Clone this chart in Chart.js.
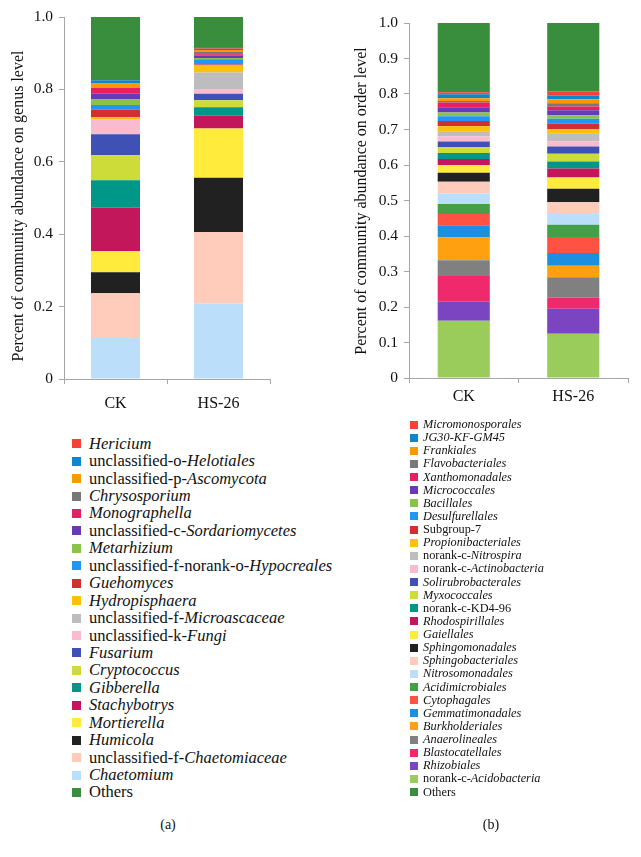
<!DOCTYPE html>
<html>
<head>
<meta charset="utf-8">
<script src="https://cdn.jsdelivr.net/npm/chart.js@4"></script>
<style>
  body { margin: 0; background: #fff; font-family: 'Liberation Serif', serif; color: #111; }
  #page { position: relative; width: 641px; height: 857px; overflow: hidden; }
  .chart-box { position: absolute; top: 0; height: 420px; }
  .legend { position: absolute; }
  .legend .row { display: flex; align-items: center; white-space: nowrap; }
  .legend .sw { flex: none; }
  .caption { position: absolute; top: 817px; font-size: 14px; width: 40px; text-align: center; }
</style>
</head>
<body>
<div id="page">
  <div class="chart-box" style="left:0;width:290px"><canvas id="genus-chart"></canvas></div>
  <div class="chart-box" style="left:320px;width:321px"><canvas id="order-chart"></canvas></div>
  <div id="genus-legend" class="legend" style="left:72px;top:435px"></div>
  <div id="order-legend" class="legend" style="left:410px;top:418px"></div>
  <div class="caption" style="left:148px">(a)</div>
  <div class="caption" style="left:471px">(b)</div>
</div>
<script>
// Categories (both panels)
const samples = ['CK', 'HS-26'];

// Genus level, in legend order (top to bottom); *text* = italic
const genusNames = [
  '*Hericium*', 'unclassified-o-*Helotiales*', 'unclassified-p-*Ascomycota*', '*Chrysosporium*',
  '*Monographella*', 'unclassified-c-*Sordariomycetes*', '*Metarhizium*',
  'unclassified-f-norank-o-*Hypocreales*', '*Guehomyces*', '*Hydropisphaera*',
  'unclassified-f-*Microascaceae*', 'unclassified-k-*Fungi*', '*Fusarium*', '*Cryptococcus*',
  '*Gibberella*', '*Stachybotrys*', '*Mortierella*', '*Humicola*',
  'unclassified-f-*Chaetomiaceae*', '*Chaetomium*', 'Others'
];
const genusCK = [0.001, 0.009, 0.011, 0.001, 0.016, 0.016, 0.015, 0.013, 0.020, 0.007, 0.001,
  0.040, 0.058, 0.069, 0.075, 0.121, 0.058, 0.058, 0.124, 0.113, 0.174];
const genusHS = [0.005, 0.003, 0.004, 0.008, 0.004, 0.006, 0.004, 0.014, 0.003, 0.019, 0.046,
  0.013, 0.018, 0.019, 0.024, 0.035, 0.136, 0.150, 0.198, 0.208, 0.083];
const genusColors = ['#F44336', '#0E87C9', '#FF9800', '#787878', '#E91E63', '#673AB7', '#8BC34A',
  '#2196F3', '#D32F2F', '#FFC107', '#BDBDBD', '#F8BBD0', '#3F51B5', '#CDDC39', '#009688',
  '#C2185B', '#FFEB3B', '#212121', '#FFCCBC', '#BBDEFB', '#388E3C'];
const genusTicks = [0, 0.2, 0.4, 0.6, 0.8, 1.0];

// Order level, in legend order (top to bottom)
const orderNames = [
  '*Micromonosporales*', '*JG30-KF-GM45*', '*Frankiales*', '*Flavobacteriales*', '*Xanthomonadales*',
  '*Micrococcales*', '*Bacillales*', '*Desulfurellales*', 'Subgroup-7', '*Propionibacteriales*',
  'norank-c-*Nitrospira*', 'norank-c-*Actinobacteria*', '*Solirubrobacterales*', '*Myxococcales*',
  'norank-c-KD4-96', '*Rhodospirillales*', '*Gaiellales*', '*Sphingomonadales*',
  '*Sphingobacteriales*', '*Nitrosomonadales*', '*Acidimicrobiales*', '*Cytophagales*',
  '*Gemmatimonadales*', '*Burkholderiales*', '*Anaerolineales*', '*Blastocatellales*',
  '*Rhizobiales*', 'norank-c-*Acidobacteria*', 'Others'
];
const orderCK = [0.006, 0.011, 0.008, 0.004, 0.013, 0.015, 0.011, 0.013, 0.015, 0.015, 0.013,
  0.015, 0.015, 0.017, 0.017, 0.017, 0.022, 0.025, 0.033, 0.030, 0.028, 0.032, 0.034, 0.064,
  0.045, 0.072, 0.054, 0.161, 0.195];
const orderHS = [0.013, 0.010, 0.011, 0.009, 0.011, 0.014, 0.010, 0.014, 0.015, 0.013, 0.021,
  0.015, 0.020, 0.022, 0.020, 0.025, 0.032, 0.038, 0.030, 0.033, 0.035, 0.045, 0.036, 0.032,
  0.057, 0.032, 0.070, 0.125, 0.192];
const orderColors = ['#F44336', '#0E87C9', '#FF9800', '#787878', '#E91E63', '#673AB7', '#8BC34A',
  '#2196F3', '#D32F2F', '#FFC107', '#BDBDBD', '#F8BBD0', '#3F51B5', '#CDDC39', '#009688',
  '#C2185B', '#FFEB3B', '#212121', '#FFCCBC', '#BBDEFB', '#43A047', '#FF5243', '#1E8FE0',
  '#FFA010', '#808080', '#F0286C', '#7B45C2', '#99CC5A', '#388E3C'];
const orderTicks = [0, 0.1, 0.2, 0.3, 0.4, 0.5, 0.6, 0.7, 0.8, 0.9, 1.0];

Chart.defaults.font.family = "'Liberation Serif', serif";
Chart.defaults.color = '#111';

const axisGrey = '#a6a6a6';

// Rotated y-axis title drawn at a fixed centre (the original is not centred on the axis)
const yTitlePlugin = {
  id: 'yTitle',
  afterDraw(chart, args, opts) {
    const ctx = chart.ctx;
    ctx.save();
    ctx.translate(opts.x, opts.y);
    ctx.rotate(-Math.PI / 2);
    ctx.font = `16px 'Liberation Serif', serif`;
    ctx.fillStyle = '#111';
    ctx.textAlign = 'center';
    ctx.textBaseline = 'middle';
    ctx.fillText(opts.text, 0, 0);
    ctx.restore();
  }
};

// Stack bottom -> top is the legend reversed, with "Others" on top
function buildDatasets(names, ck, hs, colors) {
  const n = names.length - 1;
  const idx = [];
  for (let i = n - 1; i >= 0; i--) idx.push(i);
  idx.push(n);
  return idx.map(i => ({
    label: names[i].replace(/\*/g, ''),
    data: [ck[i], hs[i]],
    backgroundColor: colors[i],
    borderWidth: 0,
    barPercentage: 0.476,
    categoryPercentage: 1
  }));
}

function makeChart(id, cfg) {
  new Chart(document.getElementById(id), {
    type: 'bar',
    data: { labels: samples, datasets: buildDatasets(cfg.names, cfg.ck, cfg.hs, cfg.colors) },
    plugins: [yTitlePlugin],
    options: {
      responsive: true,
      maintainAspectRatio: false,
      animation: false,
      layout: { padding: cfg.padding },
      plugins: {
        legend: { display: false },
        tooltip: { enabled: false },
        yTitle: { text: cfg.title, x: cfg.titleX, y: cfg.titleY }
      },
      scales: {
        x: {
          stacked: true,
          afterFit: s => { s.height = cfg.xHeight; },
          grid: { offset: true, drawOnChartArea: false, tickLength: 5, color: axisGrey },
          border: { color: axisGrey },
          ticks: { font: { size: 16 }, padding: cfg.xPad }
        },
        y: {
          stacked: true,
          min: 0,
          max: 1,
          afterFit: s => { s.width = cfg.yWidth; },
          afterBuildTicks: s => { s.ticks = cfg.ticks.map(v => ({ value: v })); },
          grid: { drawOnChartArea: false, tickLength: 5, color: axisGrey },
          border: { color: axisGrey },
          ticks: {
            font: { size: 15.5 },
            padding: 6,
            callback: v => (v === 0 ? '0' : v.toFixed(1))
          }
        }
      }
    }
  });
}

makeChart('genus-chart', {
  names: genusNames, ck: genusCK, hs: genusHS, colors: genusColors, ticks: genusTicks,
  title: 'Percent of community abundance on genus level',
  padding: { left: 0, top: 17, right: 20, bottom: 0 },
  xHeight: 41, xPad: 10, yWidth: 64, titleX: 18.5, titleY: 206
});

makeChart('order-chart', {
  names: orderNames, ck: orderCK, hs: orderHS, colors: orderColors, ticks: orderTicks,
  title: 'Percent of community abundance on order level',
  padding: { left: 0, top: 23, right: 13, bottom: 0 },
  xHeight: 42, xPad: 4, yWidth: 89, titleX: 41.7, titleY: 201
});

// HTML legends (mixed roman / italic names)
function buildLegend(id, names, colors, rowH, box, gap, size) {
  const el = document.getElementById(id);
  names.forEach((name, i) => {
    const row = document.createElement('div');
    row.className = 'row';
    row.style.height = rowH + 'px';
    row.style.fontSize = size + 'px';
    row.innerHTML = `<span class="sw" style="width:${box}px;height:${box}px;margin-right:${gap}px;background:${colors[i]}"></span>` +
      `<span>${name.replace(/\*(.+?)\*/g, '<i>$1</i>')}</span>`;
    el.appendChild(row);
  });
}

buildLegend('genus-legend', genusNames, genusColors, 17.45, 9, 8, 16.5);
buildLegend('order-legend', orderNames, orderColors, 13.14, 8, 5, 12.3);
</script>
</body>
</html>
